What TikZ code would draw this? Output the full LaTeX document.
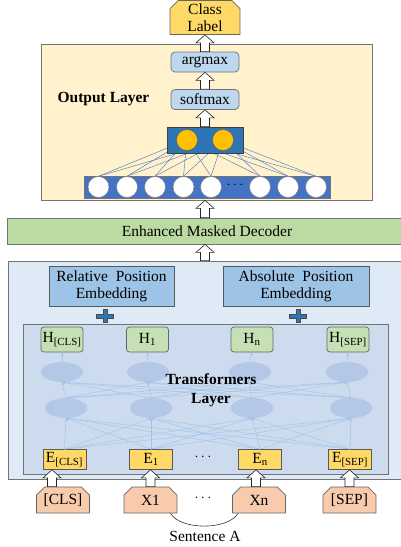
\documentclass[tikz,border=0pt]{standalone}
\usepackage{fontspec}
\setmainfont{Liberation Serif}
\usetikzlibrary{shapes.misc, shapes.geometric, calc, arrows.meta}

\definecolor{cream}{HTML}{FFF2CC}
\definecolor{paleblue}{HTML}{DEEBF7}
\definecolor{steel}{HTML}{CDDBEF}
\definecolor{embblue}{HTML}{9DC3E6}
\definecolor{opblue}{HTML}{BDD7EE}
\definecolor{leaf}{HTML}{BBDBA2}
\definecolor{hgreen}{HTML}{C5E0B4}
\definecolor{gold}{HTML}{FFD966}
\definecolor{peach}{HTML}{F8CBAD}
\definecolor{darkblue}{HTML}{2E75B6}
\definecolor{midblue}{HTML}{4472C4}
\definecolor{amber}{HTML}{FFC000}
\definecolor{wireblue}{HTML}{9DC3E6}
\definecolor{cellblue}{HTML}{B4C7E7}

% hollow block arrow pointing up, from #1 to #2
\newcommand{\blockup}[2]{%
  \draw[hollow] let \p1=(#1), \p2=(#2) in
    (\x1-4.5pt,\y1) -- (\x1-4.5pt,\y2-8pt) -- (\x1-9pt,\y2-8pt) -- (\x1,\y2)
    -- (\x1+9pt,\y2-8pt) -- (\x1+4.5pt,\y2-8pt) -- (\x1+4.5pt,\y1) -- cycle;}

\begin{document}
\begin{tikzpicture}
  [x=1pt, y=-1pt,
   every node/.style={font=\fontsize{15.5}{17}\selectfont, inner sep=1pt},
   frame/.style={draw=black!55, line width=0.7pt},
   hollow/.style={draw=black!85, fill=white, line width=0.6pt},
   cut/.style={chamfered rectangle, chamfered rectangle corners={north west,north east}, chamfered rectangle xsep=5pt},
   token/.style={frame, cut, draw=black!60, fill=peach, minimum width=53pt, minimum height=26pt},
   op/.style={frame, rounded corners=4pt, fill=opblue, minimum width=68pt, minimum height=20pt},
   unit/.style={circle, draw=black!50, line width=0.5pt, minimum size=21pt, inner sep=0pt},
   hbox/.style={frame, rounded corners=3pt, fill=hgreen, draw=black!60, minimum width=42pt, minimum height=25pt},
   ebox/.style={frame, fill=gold, draw=black!65, minimum width=43pt, minimum height=20pt},
   cell/.style={ellipse, fill=cellblue, minimum width=42pt, minimum height=20pt},
   wire/.style={wireblue, line width=0.4pt, -{Stealth[length=3pt,width=2.5pt]}},
   dense wire/.style={midblue, line width=0.4pt},
   plussign/.style={fill=darkblue, draw=black!70, line width=0.4pt},
   bold/.style={font=\fontsize{15.5}{19}\selectfont\bfseries, align=center}]

  \useasboundingbox (0,0) rectangle (401,547);

  % output layer
  \node[frame, fill=cream, minimum width=331pt, minimum height=156pt] (outbox) at (206.5,122) {};
  \node[bold] (outtitle) at (103.5,99) {Output Layer};

  \node[frame, fill=midblue, draw=black!55, minimum width=246pt, minimum height=22pt] (strip) at (207,187) {};
  \foreach \i/\x in {1/98.5, 2/127, 3/155, 4/183.5, 5/211, 6/260, 7/288, 8/316}
    \node[unit, fill=white] (n\i) at (\x,187) {};
  \node (ndots) at (235,185) {$\cdots$};

  \coordinate (c1) at (187,140);
  \coordinate (c2) at (223,140);
  \foreach \i in {1,...,8} {
    \draw[dense wire] (n\i.north) -- (c1);
    \draw[dense wire] (n\i.north) -- (c2);
  }
  \node[frame, fill=darkblue, draw=black!75, minimum width=76pt, minimum height=26pt] (dense) at (205,140) {};
  \node[unit, fill=amber, draw=black!60] (o1) at (c1) {};
  \node[unit, fill=amber, draw=black!60] (o2) at (c2) {};

  \node[op] (softmax) at (205,99.5) {softmax};
  \node[op] (argmax) at (205,62) {argmax};
  \node[frame, cut, fill=gold, draw=black!60, minimum width=70pt, minimum height=31pt,
        inner sep=0pt, align=center] (label) at (205,17.5) {Class\\Label};

  \blockup{dense.north}{softmax.south}
  \blockup{softmax.north}{argmax.south}
  \blockup{argmax.north}{label.south}

  % decoder
  \node[frame, fill=leaf, minimum width=400pt, minimum height=26pt] (decoder) at (207,231) {Enhanced Masked Decoder};
  \blockup{decoder.north -| argmax.south}{outbox.south}

  % encoder
  \node[frame, fill=paleblue, minimum width=400pt, minimum height=218pt] (encoder) at (208,370) {};
  \blockup{encoder.north -| argmax.south}{decoder.south}

  \node[frame, fill=embblue, draw=black!65, minimum width=125pt, minimum height=40pt, align=center] (relpos) at (111.5,286) {Relative\ \ Position\\Embedding};
  \node[frame, fill=embblue, draw=black!65, minimum width=146pt, minimum height=40pt, align=center] (abspos) at (296,286) {Absolute\ \ Position\\Embedding};

  \foreach \px in {105, 298}
    \draw[plussign] (\px,316) ++(-8.5,-2) -- ++(6.5,0) -- ++(0,-4.5) -- ++(4,0) -- ++(0,4.5) -- ++(6.5,0)
      -- ++(0,4) -- ++(-6.5,0) -- ++(0,4.5) -- ++(-4,0) -- ++(0,-4.5) -- ++(-6.5,0) -- cycle;

  \node[frame, fill=steel, minimum width=365pt, minimum height=150pt] (trans) at (205.5,399) {};

  \node[hbox] (h1) at (62,339.5) {H\textsubscript{[CLS]}};
  \node[hbox] (h2) at (147.5,339.5) {H\textsubscript{1}};
  \node[hbox] (h3) at (252,339.5) {H\textsubscript{n}};
  \node[hbox] (h4) at (348,339.5) {H\textsubscript{[SEP]}};

  \foreach \i/\x in {1/62, 2/148, 3/250, 4/347}
    \node[cell] (a\i) at (\x,372) {};
  \foreach \i/\x in {1/66, 2/151, 3/252, 4/351}
    \node[cell] (b\i) at (\x,408) {};

  \node[ebox] (e1) at (64.5,459.5) {E\textsubscript{[CLS]}};
  \node[ebox] (e2) at (151,459.5) {E\textsubscript{1}};
  \node[ebox] (e3) at (260,459.5) {E\textsubscript{n}};
  \node[ebox] (e4) at (350,459.5) {E\textsubscript{[SEP]}};
  \node (edots) at (203,457) {$\cdots$};

  \foreach \i in {1,...,4}
    \foreach \j in {1,...,4} {
      \draw[wire] (e\i.north) -- (b\j.south);
      \draw[wire] (b\i.north) -- (a\j.south);
    }
  \foreach \i in {1,...,4}
    \draw[wire] (a\i.north) -- (h\i.south);

  \node[bold] (translabel) at (211,390) {Transformers\\Layer};

  % input tokens
  \node[token] (t1) at (63,500) {[CLS]};
  \node[token] (t2) at (150.5,500) {X1};
  \node[token] (t3) at (259,500) {Xn};
  \node[token] (t4) at (349.5,500) {[SEP]};
  \node (tdots) at (203,498) {$\cdots$};

  \blockup{$(t1.north)+(-11,0)$}{e1.south}
  \blockup{t2.north}{e2.south}
  \blockup{$(t3.north)+(-3,0)$}{e3.south}
  \blockup{t4.north}{e4.south}

  \draw[black!80, line width=0.6pt] ($(t2.south)+(20,0)$) .. controls +(10,17) and +(-10,17) .. ($(t3.south)+(-21,0)$);
  \node (sentence) at (205,536) {Sentence A};
\end{tikzpicture}
\end{document}
